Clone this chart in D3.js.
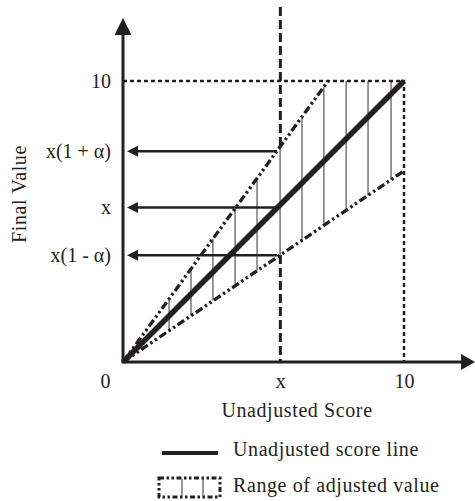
<!DOCTYPE html>
<html><head><meta charset="utf-8">
<script src="https://cdn.jsdelivr.net/npm/d3@7"></script>
<style>body{margin:0;background:#fff}svg text{font-family:"Liberation Serif","Times New Roman",serif;fill:#231f20}</style>
</head><body><svg id="c" width="475" height="501"></svg>
<script>
// ---- data ----
const maxScore = 10;
const xMark = 5.6;
const upperSlope = 1.37;
const lowerSlope = 0.68;
const hatchX = [1.64, 2.42, 3.2, 3.99, 4.77, 5.59, 6.37, 7.15, 7.94, 8.72, 9.54];
const xTickValues = [0, 5.6, 10];
const xTickLabels = ["0", "x", "10"];
const yTickValues = [10, 7.5, 5.5, 3.8];
const yTickLabels = ["10", "x(1 + α)", "x", "x(1 - α)"];
const arrowLevels = [7.5, 5.5, 3.8];
const arrowEndX = 5.48;
const axisExtentX = 12.53;
const axisExtentY = 12.24;
const markLineTop = 12.63;
const xTitle = "Unadjusted Score";
const yTitle = "Final Value";
const legendLabels = ["Unadjusted score line", "Range of adjusted value"];

// ---- setup ----
const ink = "#231f20";
const svg = d3.select("#c");
const x = d3.scaleLinear().domain([0, 10]).range([123, 404]);
const y = d3.scaleLinear().domain([0, 10]).range([362, 81]);
const line = d3.line().x(d => x(d[0])).y(d => y(d[1]));
const dashDot = "8,3,2.5,3,2.5,3";

// hatch lines
svg.append("g").selectAll("line").data(hatchX).join("line")
  .attr("x1", d => x(d)).attr("x2", d => x(d))
  .attr("y1", d => y(lowerSlope * d))
  .attr("y2", d => y(Math.min(upperSlope * d, maxScore)))
  .attr("stroke", "#444").attr("stroke-width", 1.1);

// top and right dashed boundary
svg.append("path").attr("d", line([[0, maxScore], [maxScore, maxScore], [maxScore, 0]]))
  .attr("fill", "none").attr("stroke", ink).attr("stroke-width", 2.5).attr("stroke-dasharray", "4,3");

// center dashed vertical (x marker)
svg.append("path").attr("d", line([[xMark, markLineTop], [xMark, upperSlope * xMark]]))
  .attr("stroke", ink).attr("stroke-width", 3).attr("stroke-dasharray", "9,4");
svg.append("path").attr("d", line([[xMark, lowerSlope * xMark], [xMark, 0]]))
  .attr("stroke", ink).attr("stroke-width", 3).attr("stroke-dasharray", "9,4");

// upper/lower dash-dot lines
svg.append("path").attr("d", line([[0, 0], [maxScore / upperSlope, maxScore]]))
  .attr("fill", "none").attr("stroke", ink).attr("stroke-width", 3.3).attr("stroke-dasharray", dashDot);
svg.append("path").attr("d", line([[0, 0], [maxScore, maxScore * lowerSlope]]))
  .attr("fill", "none").attr("stroke", ink).attr("stroke-width", 3.3).attr("stroke-dasharray", dashDot);

// main unadjusted line
svg.append("path").attr("d", line([[0, 0], [maxScore, maxScore]]))
  .attr("fill", "none").attr("stroke", ink).attr("stroke-width", 5.5);

// horizontal arrows
const ag = svg.append("g");
arrowLevels.forEach(v => {
  const yy = y(v);
  ag.append("line").attr("x1", x(arrowEndX)).attr("x2", x(0) + 12).attr("y1", yy).attr("y2", yy)
    .attr("stroke", ink).attr("stroke-width", 2.6);
  ag.append("path").attr("d", `M${x(0) + 4},${yy}L${x(0) + 15},${yy - 5.5}L${x(0) + 15},${yy + 5.5}Z`).attr("fill", ink);
});

// axes lines with arrowheads
svg.append("line").attr("x1", x(0)).attr("y1", y(0)).attr("x2", x(0)).attr("y2", y(axisExtentY) + 14)
  .attr("stroke", ink).attr("stroke-width", 3);
svg.append("path").attr("d", `M${x(0)},${y(axisExtentY)}L${x(0) - 8.5},${y(axisExtentY) + 17}L${x(0) + 8.5},${y(axisExtentY) + 17}Z`).attr("fill", ink);
svg.append("line").attr("x1", x(0) - 1.5).attr("y1", y(0)).attr("x2", x(axisExtentX) - 12).attr("y2", y(0))
  .attr("stroke", ink).attr("stroke-width", 3);
svg.append("path").attr("d", `M${x(axisExtentX)},${y(0)}L${x(axisExtentX) - 14},${y(0) - 8}L${x(axisExtentX) - 14},${y(0) + 8}Z`).attr("fill", ink);

// tick labels via d3 axes
const fs = "20px";
const bottomAxis = d3.axisBottom(x).tickValues(xTickValues).tickFormat((d, i) => xTickLabels[i]).tickSize(0).tickPadding(12);
const bg = svg.append("g").attr("transform", `translate(0,${y(0)})`).call(bottomAxis);
bg.select(".domain").remove();
bg.selectAll("text").attr("font-size", fs).attr("font-family", null).attr("fill", ink)
  .attr("dx", (d, i) => i === 0 ? "-18" : "0");

const leftAxis = d3.axisLeft(y).tickValues(yTickValues).tickFormat((d, i) => yTickLabels[i]).tickSize(0).tickPadding(12);
const lg = svg.append("g").attr("transform", `translate(${x(0)},0)`).call(leftAxis);
lg.select(".domain").remove();
lg.selectAll("text").attr("font-size", fs).attr("font-family", null).attr("fill", ink);

// titles
svg.append("text").attr("x", 297).attr("y", 417).attr("text-anchor", "middle").attr("font-size", fs)
  .attr("letter-spacing", "0.6").text(xTitle);
svg.append("text").attr("transform", "translate(26,194) rotate(-90)").attr("text-anchor", "middle")
  .attr("font-size", fs).attr("letter-spacing", "0.6").text(yTitle);

// legend
svg.append("line").attr("x1", 162).attr("x2", 218).attr("y1", 453).attr("y2", 453)
  .attr("stroke", ink).attr("stroke-width", 4);
svg.append("text").attr("x", 233).attr("y", 456).attr("font-size", fs).attr("letter-spacing", "0.6").text(legendLabels[0]);
svg.append("rect").attr("x", 159).attr("y", 478).attr("width", 61).attr("height", 19)
  .attr("fill", "none").attr("stroke", ink).attr("stroke-width", 3).attr("stroke-dasharray", "5,2.5,2.5,2.5,2.5,2.5");
[182, 203].forEach(px => svg.append("line").attr("x1", px).attr("x2", px).attr("y1", 479).attr("y2", 496)
  .attr("stroke", "#444").attr("stroke-width", 1.1));
svg.append("text").attr("x", 233).attr("y", 492).attr("font-size", fs).attr("letter-spacing", "0.6").text(legendLabels[1]);
</script></body></html>
